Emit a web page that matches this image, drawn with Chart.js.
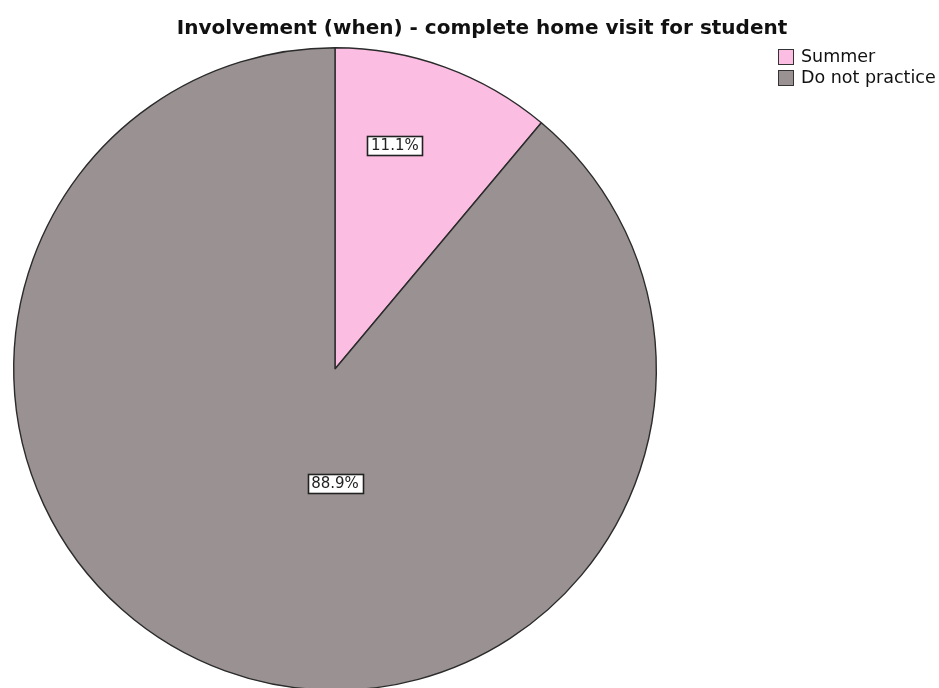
<!DOCTYPE html>
<html>
<head>
<meta charset="utf-8">
<title>Involvement (when) - complete home visit for student</title>
<script src="https://cdn.jsdelivr.net/npm/chart.js@4.4.1/dist/chart.umd.min.js"></script>
<style>
  html, body { margin: 0; padding: 0; background: #fff; overflow: hidden; }
  #wrap { position: relative; width: 939px; height: 700px; }
</style>
</head>
<body>
<div id="wrap"><canvas id="chart" width="939" height="700"></canvas></div>
<script>
// Data
const chartTitle = 'Involvement (when) - complete home visit for student';
const categories = ['Summer', 'Do not practice'];
const percents = [11.1, 88.9];
const sliceColors = ['#fcbde2', '#9a9292'];

// where each percent box sits: angle from 12 o'clock (deg), distance as share of radius
const labelSpots = [
    { angle: 15, dist: 0.72 },
    { angle: 180, dist: 0.355 }
];

const FONT = '"DejaVu Sans", "Lucida Grande", sans-serif';

// title, legend and the boxed percent labels
const decorPlugin = {
    id: 'decor',
    afterDraw(chart) {
        const ctx = chart.ctx;
        ctx.save();

        // title
        ctx.fillStyle = '#111';
        ctx.font = 'bold 20px ' + FONT;
        ctx.textAlign = 'center';
        ctx.textBaseline = 'middle';
        ctx.fillText(chartTitle, 482, 29);

        // legend
        ctx.font = '17.5px ' + FONT;
        ctx.textAlign = 'left';
        chart.data.labels.forEach((lab, i) => {
            const y = 49 + i * 21;
            ctx.fillStyle = chart.data.datasets[0].backgroundColor[i];
            ctx.fillRect(778.5, y + 0.5, 15, 15);
            ctx.strokeStyle = '#333';
            ctx.lineWidth = 1;
            ctx.strokeRect(778.5, y + 0.5, 15, 15);
            ctx.fillStyle = '#111';
            ctx.fillText(lab, 801, y + 8.5);
        });

        // percent labels
        const meta = chart.getDatasetMeta(0);
        const arc0 = meta.data[0];
        const cx = arc0.x, cy = arc0.y, r = arc0.outerRadius;
        ctx.font = '15px ' + FONT;
        ctx.textAlign = 'center';
        chart.data.datasets[0].data.forEach((v, i) => {
            const spot = labelSpots[i];
            const a = spot.angle * Math.PI / 180;
            const x = cx + Math.sin(a) * r * spot.dist;
            const y = cy - Math.cos(a) * r * spot.dist;
            const txt = v.toFixed(1) + '%';
            const w = Math.round(ctx.measureText(txt).width + 7);
            const h = 19;
            const bx = Math.round(x - w / 2) + 0.5, by = Math.round(y - h / 2) + 0.5;
            ctx.fillStyle = '#fff';
            ctx.fillRect(bx, by, w, h);
            ctx.strokeStyle = '#222';
            ctx.lineWidth = 1.6;
            ctx.strokeRect(bx, by, w, h);
            ctx.fillStyle = '#222';
            ctx.fillText(txt, x, y + 1);
        });

        ctx.restore();
    }
};

new Chart(document.getElementById('chart'), {
    type: 'pie',
    data: {
        labels: categories,
        datasets: [{
            data: percents,
            backgroundColor: sliceColors,
            borderColor: '#2b2b2b',
            borderWidth: 1.4,
            hoverOffset: 0
        }]
    },
    options: {
        responsive: false,
        animation: false,
        layout: {
            padding: { left: 13, right: 282, top: 47, bottom: 9 }
        },
        plugins: {
            legend: { display: false },
            title: { display: false },
            tooltip: { enabled: false }
        }
    },
    plugins: [decorPlugin]
});
</script>
</body>
</html>
